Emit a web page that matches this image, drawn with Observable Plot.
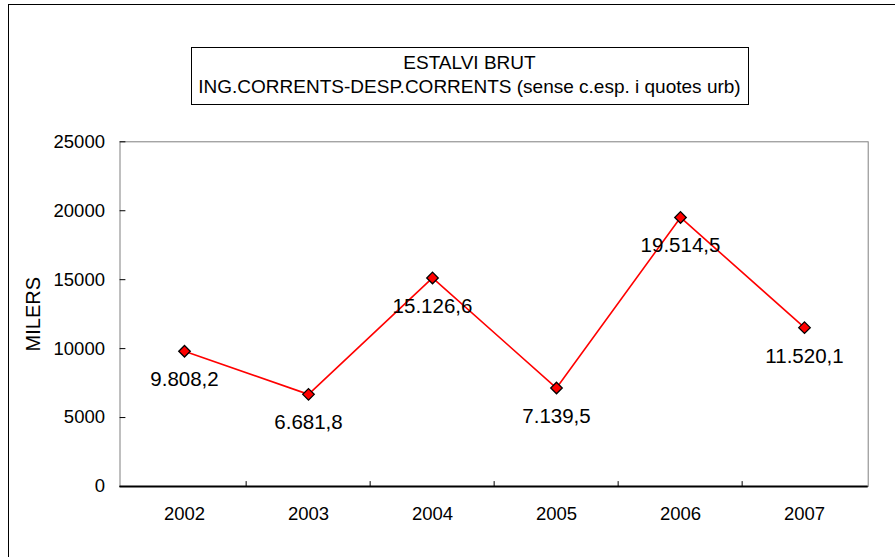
<!DOCTYPE html>
<html>
<head>
<meta charset="utf-8">
<script src="https://cdn.jsdelivr.net/npm/d3@7"></script>
<script src="https://cdn.jsdelivr.net/npm/@observablehq/plot@0.6"></script>
<style>
  html, body { margin: 0; padding: 0; background: #fff; overflow: hidden; }
  #wrap { position: relative; width: 895px; height: 557px; overflow: hidden; font-family: Arial, "Liberation Sans", sans-serif; }
  #outer { position: absolute; left: 8px; top: 4px; width: 950px; height: 650px; border: 1px solid #000; box-sizing: border-box; }
  #title { position: absolute; left: 190.5px; top: 46.5px; width: 558px; height: 58px; border: 1px solid #000; box-sizing: border-box;
           text-align: center; font-size: 19px; line-height: 24px; padding-top: 3px; color: #000; background: #fff; white-space: nowrap; }
  #chart { position: absolute; left: 0; top: 0; }
</style>
</head>
<body>
<div id="wrap">
  <div id="outer"></div>
  <div id="chart"></div>
  <div id="title">ESTALVI BRUT<br>ING.CORRENTS-DESP.CORRENTS (sense c.esp. i quotes urb)</div>
</div>
<script>
const years = ["2002", "2003", "2004", "2005", "2006", "2007"];
const values = [9808.2, 6681.8, 15126.6, 7139.5, 19514.5, 11520.1];
const yTicks = [0, 5000, 10000, 15000, 20000, 25000];
const yLabel = "MILERS";

const data = years.map((y, i) => ({year: y, value: values[i]}));
const ca = d3.formatLocale({decimal: ",", thousands: ".", grouping: [3], currency: ["", " €"]});
const fmt = ca.format(",.1f");

const W = 895, H = 557;
const mL = 119.5, mR = 27.3, mT = 141.3, mB = 71;
const step = (W - mL - mR) / years.length;
const lineShape = {draw(context, l) { context.moveTo(0, 0); context.lineTo(0, -l); }};

const chart = Plot.plot({
  width: W,
  height: H,
  marginLeft: mL,
  marginRight: mR,
  marginTop: mT,
  marginBottom: mB,
  style: {fontFamily: 'Arial, "Liberation Sans", sans-serif', background: "transparent", color: "#000", overflow: "visible"},
  x: {type: "band", domain: years, paddingInner: 0, paddingOuter: 0},
  y: {domain: [0, 25000], ticks: yTicks},
  marks: [
    Plot.frame({stroke: "#808080"}),
    Plot.axisX({tickSize: 0, tickPadding: 20, fontSize: 18.5, label: null}),
    Plot.axisY(yTicks, {tickSize: 0, tickPadding: 15, fontSize: 18.5, tickFormat: d => String(d), label: null}),
    Plot.text([yLabel], {frameAnchor: "left", textAnchor: "middle", dx: -86.5, rotate: -90, fontSize: 20, fill: "#000"}),
    Plot.vector(yTicks, {y: d => d, frameAnchor: "left", rotate: 90, length: 5, anchor: "start", shape: lineShape, stroke: "#000", strokeWidth: 1}),
    Plot.vector(years.slice(1), {x: d => d, frameAnchor: "bottom", dx: -step / 2, length: 5, anchor: "start", shape: lineShape, stroke: "#000", strokeWidth: 1}),
    Plot.ruleY([0], {stroke: "#000", strokeWidth: 2}),
    Plot.axisY({ticks: [], line: true, stroke: "#000", strokeWidth: 1.5, label: null, tickSize: 0}),
    Plot.line(data, {x: "year", y: "value", stroke: "#ff0000", strokeWidth: 1.6}),
    Plot.dot(data, {x: "year", y: "value", symbol: "diamond2", r: 5.2, fill: "#ff0000", stroke: "#000", strokeWidth: 1.3}),
    Plot.text(data, {x: "year", y: "value", text: d => fmt(d.value), dy: 28.5, fontSize: 20.5, fill: "#000"})
  ]
});
document.getElementById("chart").appendChild(chart);
</script>
</body>
</html>
